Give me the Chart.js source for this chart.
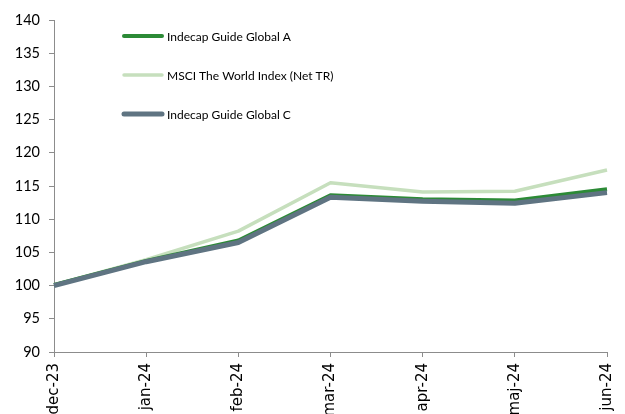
<!DOCTYPE html>
<html>
<head>
<meta charset="utf-8">
<script src="https://cdn.jsdelivr.net/npm/chart.js@4"></script>
<style>
  html, body { margin:0; padding:0; background:#fff; }
  #wrap { width:625px; height:414px; }
</style>
</head>
<body>
<div id="wrap"><canvas id="c" width="625" height="414"></canvas></div>
<script>
const months = ['dec-23', 'jan-24', 'feb-24', 'mar-24', 'apr-24', 'maj-24', 'jun-24'];
const guideA = [100.1, 103.7, 106.8, 113.6, 113.0, 112.8, 114.5];
const msci   = [100.1, 103.9, 108.2, 115.5, 114.1, 114.2, 117.4];
const guideC = [100.0, 103.6, 106.5, 113.3, 112.7, 112.4, 114.0];

// legend drawn inside the plot, like the original
const insideLegend = {
  id: 'insideLegend',
  afterDraw(chart, args, opts) {
    const ctx = chart.ctx;
    ctx.save();
    ctx.font = opts.font;
    ctx.fillStyle = '#000';
    ctx.textBaseline = 'middle';
    chart.data.datasets.forEach((ds, i) => {
      const y = opts.rows[i];
      ctx.strokeStyle = ds.borderColor;
      ctx.lineWidth = ds.borderWidth;
      ctx.lineCap = 'round';
      ctx.beginPath();
      ctx.moveTo(opts.x1, y);
      ctx.lineTo(opts.x2, y);
      ctx.stroke();
      ctx.fillText(ds.label, opts.textX, y + 1);
    });
    ctx.restore();
  }
};

new Chart(document.getElementById('c'), {
  type: 'line',
  data: {
    labels: months,
    datasets: [
      { label: 'Indecap Guide Global A', data: guideA, borderColor: '#2c8a36', borderWidth: 4, order: 1 },
      { label: 'MSCI The World Index (Net TR)', data: msci, borderColor: '#c6dfbd', borderWidth: 3.5, order: 2 },
      { label: 'Indecap Guide Global C', data: guideC, borderColor: '#5f7482', borderWidth: 5, order: 0 }
    ]
  },
  options: {
    responsive: false,
    animation: false,
    layout: { padding: { top: 20, right: 18, left: 0, bottom: 0 } },
    elements: { point: { radius: 0 }, line: { tension: 0, borderJoinStyle: 'round' } },
    plugins: {
      legend: { display: false },
      tooltip: { enabled: false },
      insideLegend: { x1: 124, x2: 162, textX: 167, rows: [36, 75, 114], font: '12px Lato, sans-serif' }
    },
    scales: {
      x: {
        offset: false,
        grid: { drawOnChartArea: false, tickLength: 5, color: '#8c8c8c' },
        border: { color: '#8c8c8c' },
        ticks: { maxRotation: 90, minRotation: 90, padding: 6, color: '#000', font: { family: 'DejaVu Sans', size: 15 } },
        afterFit(s) { s.height = 62; s.paddingLeft = 0; s.paddingRight = 0; }
      },
      y: {
        min: 90, max: 140,
        ticks: { stepSize: 5, padding: 9, color: '#000', font: { family: 'Lato', size: 14.5 } },
        grid: { drawOnChartArea: false, tickLength: 5, color: '#8c8c8c' },
        border: { color: '#8c8c8c' },
        afterFit(s) { s.width = 54; }
      }
    }
  },
  plugins: [insideLegend]
});
</script>
</body>
</html>
